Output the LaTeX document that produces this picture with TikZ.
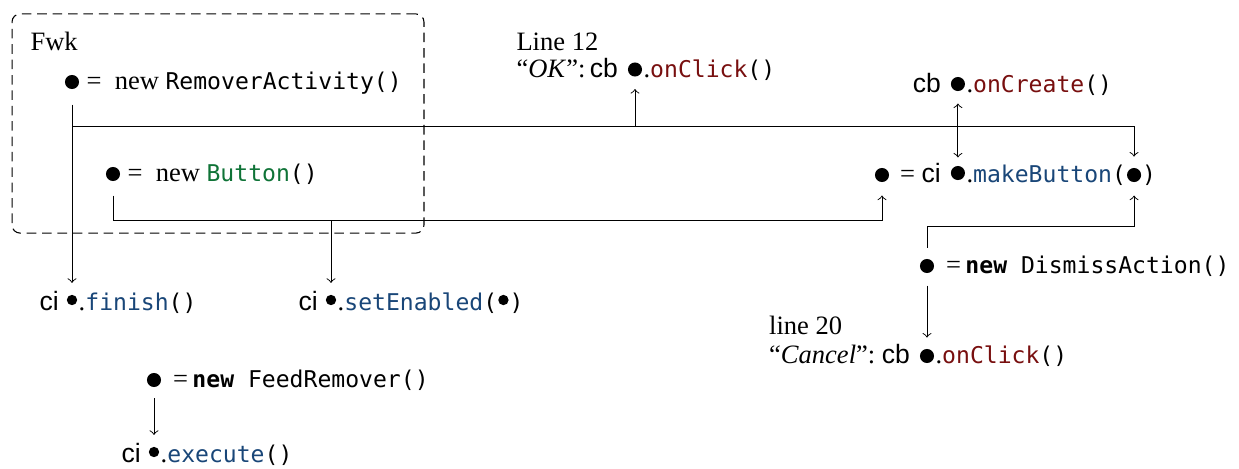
\documentclass[tikz,border=0pt]{standalone}
\usepackage{fontspec}
\setmainfont{Liberation Serif}
\setsansfont{Liberation Sans}
\setmonofont[Scale=0.87]{DejaVu Sans Mono}
\usetikzlibrary{calc}
\definecolor{callblue}{RGB}{25,70,120}
\definecolor{cbred}{RGB}{120,15,15}
\definecolor{clsgreen}{RGB}{15,115,55}
% method or class name in code font, coloured
\newcommand{\mcall}[2]{\texttt{{\color{#1}#2}}}
\begin{document}
\begin{tikzpicture}[x=0.377pt, y=-0.377pt,
  vdot/.style={circle, fill=black, inner sep=0pt, minimum size=5.3pt},
  svdot/.style={circle, fill=black, inner sep=0pt, minimum size=3.9pt},
  txt/.style={inner sep=0pt, anchor=base west},
  txtl/.style={inner sep=0pt, anchor=base east},
  link/.style={->, line width=0.35pt},
  fwkbox/.style={draw, dash pattern=on 3.6pt off 2.2pt, rounded corners=3pt,
    line width=0.4pt, minimum width=155.3pt, minimum height=82.6pt, inner sep=0pt}]
\useasboundingbox (0,0) rectangle (1239,468);

% framework box
\node[fwkbox] (fwk) at (218,123.5) {};
\node[txt] (fwklbl) at (30,50) {Fwk};

% objects created by the framework
\node[vdot] (ra) at (72,82) {};
\node[txt] (ratx) at (86,89.5) {=\hspace{5pt}new \texttt{RemoverActivity()}};
\node[vdot] (bn) at (113,174) {};
\node[txt] (bntx) at (127,181.5) {=\hspace{5pt}new \mcall{clsgreen}{Button}\texttt{()}};

% OK callback
\node[txt] (l12) at (516,50) {Line 12};
\node[vdot] (ok) at (635,69.5) {};
\node[txtl] (okl) at ($(ok.west)+(-9,7.5)$) {“\textit{OK}”:\,\textsf{cb}};
\node[txt] (okr) at ($(ok.east)+(0.5,7.5)$) {.\mcall{cbred}{onClick}\texttt{()}};

% makeButton call
\node[vdot] (mr) at (882,175) {};
\node[txt] (mbl) at ($(mr.east)+(10,7.5)$) {=\ \textsf{ci}};
\node[vdot, anchor=west] (mc) at ($(mbl.base east)+(9,-9.5)$) {};
\node[txt] (mbr) at ($(mc.east)+(0.5,9.5)$) {.\mcall{callblue}{makeButton}\texttt{(}};
\node[vdot, anchor=west] (ma) at ($(mbr.base east)+(0,-7.5)$) {};
\node[txt] (mbe) at ($(ma.east)+(0,7.5)$) {\texttt{)}};

% onCreate callback
\coordinate (yoc) at (0,84);
\node[vdot] (oc) at (mc |- yoc) {};
\node[txtl] (ocl) at ($(oc.west)+(-9,8)$) {\textsf{cb}};
\node[txt] (ocr) at ($(oc.east)+(0.5,8)$) {.\mcall{cbred}{onCreate}\texttt{()}};

% DismissAction and Cancel callback
\node[vdot] (da) at (927,266) {};
\node[txt] (datx) at ($(da.east)+(11,7.5)$) {=\,\texttt{\textbf{new} DismissAction()}};
\coordinate (ycc) at (0,356);
\node[vdot] (cc) at (da |- ycc) {};
\node[txtl] (ccl) at ($(cc.west)+(-9,7.5)$) {“\textit{Cancel}”:\ \textsf{cb}};
\node[txt] (ccr) at ($(cc.east)+(0.5,7.5)$) {.\mcall{cbred}{onClick}\texttt{()}};
\node[txt] (l20) at ($(ccl.base west)+(0,-29)$) {line 20};

% finish and setEnabled calls
\coordinate (yfi) at (0,300);
\node[svdot] (fi) at (ra |- yfi) {};
\node[txtl] (fil) at ($(fi.west)+(-7,10)$) {\textsf{ci}};
\node[txt] (fir) at ($(fi.east)+(0.5,10)$) {.\mcall{callblue}{finish}\texttt{()}};

\node[svdot] (se) at (331,300) {};
\node[txtl] (sel) at ($(se.west)+(-7,10)$) {\textsf{ci}};
\node[txt] (ser) at ($(se.east)+(0.5,10)$) {.\mcall{callblue}{setEnabled}\texttt{(}};
\node[svdot, anchor=west] (sa) at ($(ser.base east)+(0,-10)$) {};
\node[txt] (see) at ($(sa.east)+(0,10)$) {\texttt{)}};

% FeedRemover and execute
\node[vdot] (fr) at (154,380) {};
\node[txt] (frtx) at ($(fr.east)+(11,7.5)$) {=\,\texttt{\textbf{new} FeedRemover()}};
\coordinate (yex) at (0,452);
\node[svdot] (ex) at (fr |- yex) {};
\node[txtl] (exl) at ($(ex.west)+(-7,10)$) {\textsf{ci}};
\node[txt] (exr) at ($(ex.east)+(0.5,10)$) {.\mcall{callblue}{execute}\texttt{()}};

% connectors
\coordinate (ybus) at (0,126);
\coordinate (ylow) at (0,220);
\coordinate (ydis) at (0,226);
\draw[link, shorten <=5.7pt, shorten >=4.3pt] (ra) -- (fi);
\draw[link, shorten >=4.1pt] (ra |- ybus) -| (ma);
\draw[link, shorten >=4.5pt] (ok |- ybus) -- (ok);
\draw[link, shorten <=5.3pt, shorten >=4.9pt] (bn) -- (bn |- ylow) -| (mr);
\draw[link, shorten >=4.3pt] (se |- ylow) -- (se);
\draw[link, <->, shorten <=4.5pt, shorten >=3pt] (oc) -- (mc);
\draw[link, shorten <=4.1pt, shorten >=4.9pt] (da) -- (da |- ydis) -| (ma);
\draw[link, shorten <=4.5pt, shorten >=4.1pt] (da) -- (cc);
\draw[link, shorten <=4.1pt, shorten >=4.3pt] (fr) -- (ex);
\end{tikzpicture}
\end{document}
